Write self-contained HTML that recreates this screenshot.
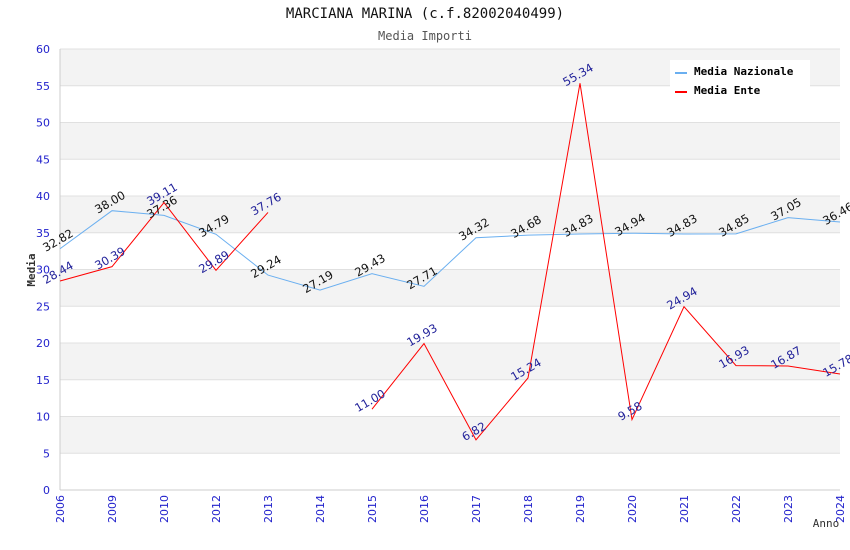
<!DOCTYPE html>
<html><head><meta charset="utf-8"><style>
body{margin:0;background:#fff;width:850px;height:550px;overflow:hidden}
svg{display:block}
</style></head><body>
<svg id="chart" width="850" height="550" xmlns="http://www.w3.org/2000/svg" font-family="DejaVu Sans, Liberation Sans, sans-serif">
<text x="425" y="18" text-anchor="middle" font-family="DejaVu Sans Mono, Liberation Mono, monospace" font-size="14" fill="#111">MARCIANA MARINA (c.f.82002040499)</text>
<text x="425" y="40" text-anchor="middle" font-family="DejaVu Sans Mono, Liberation Mono, monospace" font-size="12" fill="#555">Media Importi</text>
<g id="bands"></g><g id="grid"></g><g id="axes"></g><g id="series"></g><g id="labels"></g>
<text transform="translate(35,270) rotate(-90)" text-anchor="middle" font-family="DejaVu Sans Mono, Liberation Mono, monospace" font-size="11" font-weight="bold" fill="#333">Media</text>
<text x="826" y="527" text-anchor="middle" font-family="DejaVu Sans Mono, Liberation Mono, monospace" font-size="11" fill="#333">Anno</text>
<g>
<rect x="670" y="60" width="140" height="40" fill="#fff"/>
<line x1="675" y1="73" x2="687" y2="73" stroke="#6aaff0" stroke-width="2"/>
<text x="694" y="75" font-family="DejaVu Sans Mono, Liberation Mono, monospace" font-size="11" font-weight="bold">Media Nazionale</text>
<line x1="675" y1="92" x2="687" y2="92" stroke="#f00" stroke-width="2"/>
<text x="694" y="94" font-family="DejaVu Sans Mono, Liberation Mono, monospace" font-size="11" font-weight="bold">Media Ente</text>
</g>
</svg>
<script>
const categories=["2006","2009","2010","2012","2013","2014","2015","2016","2017","2018","2019","2020","2021","2022","2023","2024"];
const nazionale=[32.82,38.00,37.36,34.79,29.24,27.19,29.43,27.71,34.32,34.68,34.83,34.94,34.83,34.85,37.05,36.46];
const ente=[28.44,30.39,39.11,29.89,37.76,null,11.00,19.93,6.82,15.24,55.34,9.58,24.94,16.93,16.87,15.78];
const yTicks=[0,5,10,15,20,25,30,35,40,45,50,55,60];
const NS="http://www.w3.org/2000/svg";
const L=60,R=840,T=49,B=490,YMAX=60;
const x=i=>L+i*(R-L)/(categories.length-1);
const y=v=>B-v*(B-T)/YMAX;
function mk(tag,attrs,parent){const e=document.createElementNS(NS,tag);for(const k in attrs)e.setAttribute(k,attrs[k]);document.getElementById(parent).appendChild(e);return e;}
for(let i=0;i<yTicks.length-1;i++){
 if(i%2===1){const r=mk('rect',{x:L,y:y(yTicks[i+1]),width:R-L,height:y(yTicks[i])-y(yTicks[i+1]),fill:'#f3f3f3'},'bands');
 
 }
}
yTicks.forEach(t=>{
 const g=mk('line',{x1:L,x2:R,y1:y(t),y2:y(t),stroke:'#e0e0e0'},'grid');
 
 
 const tx=mk('text',{x:50,y:y(t)+4,'text-anchor':'end','font-size':11,fill:'#2222cc'},'axes');
 
 
 tx.textContent=t;
});
const ax=mk('line',{x1:L,x2:L,y1:T,y2:B,stroke:'#ccc'},'axes');


const bx=mk('line',{x1:L,x2:R,y1:B,y2:B,stroke:'#ccc'},'axes');


categories.forEach((c,i)=>{
 const tx=mk('text',{transform:`translate(${x(i)+4},${B+5}) rotate(-90)`,'text-anchor':'end','font-size':11,fill:'#2222cc'},'axes');
 
 
 tx.textContent=c;
});
function drawSeries(vals,color,name,labColor){
 let d='',pen=false;
 vals.forEach((v,i)=>{if(v===null){pen=false;return;}d+=(pen?'L':'M')+x(i)+' '+y(v)+' ';pen=true;});
 const p=mk('path',{d:d,fill:'none',stroke:color,'stroke-width':1},'series');
 
 
 vals.forEach((v,i)=>{if(v===null)return;
  const t=mk('text',{transform:`translate(${x(i)},${y(v)-5}) rotate(-30)`,'text-anchor':'middle','font-size':11.5,fill:labColor},'labels');
  
  
  t.textContent=v.toFixed(2);});
}
drawSeries(nazionale,'#6aaff0','nazionale','#111');
drawSeries(ente,'#ff0000','ente','#22229a');
</script>
</body></html>
